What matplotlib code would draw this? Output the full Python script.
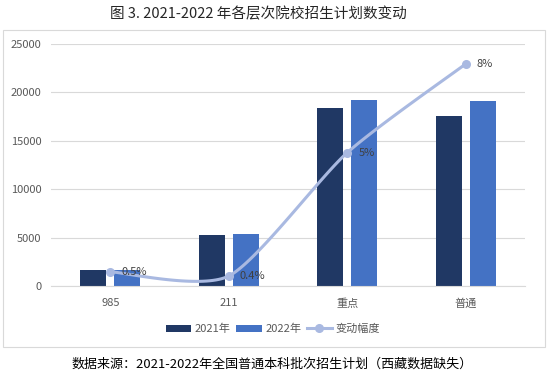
"""
图 3. 2021-2022 年各层次院校招生计划数变动 —— 柱状图 + 平滑折线(次坐标轴)
"""
import matplotlib
matplotlib.use("Agg")
import matplotlib.pyplot as plt
from matplotlib.patches import Rectangle
from matplotlib.lines import Line2D
from matplotlib.patches import Patch
import numpy as np

plt.rcParams["font.family"] = ["Noto Sans CJK SC", "DejaVu Sans"]

# -------------------------------------------------------------------------------------------------
# Data
# -------------------------------------------------------------------------------------------------
categories = ["985", "211", "重点", "普通"]
plan_2021 = [1650, 5300, 18350, 17530]
plan_2022 = [1700, 5400, 19250, 19080]
change_rate = [0.0053, 0.0037, 0.0496, 0.0826]
change_labels = ["0.5%", "0.4%", "5%", "8%"]

series_names = ["2021年", "2022年", "变动幅度"]
title = "图 3. 2021-2022 年各层次院校招生计划数变动"
source = "数据来源：2021-2022年全国普通本科批次招生计划（西藏数据缺失）"

c2021 = "#203864"
c2022 = "#4472C4"
cline = "#A9B9E1"
grid_c = "#D9D9D9"
text_c = "#595959"


def smooth_curve(xs, ys, k=0.35, n=40):
    """Smoothed line through the points (cardinal spline, tangent factor k)"""
    pts = np.column_stack([xs, ys]).astype(float)
    pts = np.vstack([pts[0], pts, pts[-1]])
    out = []
    t = np.linspace(0, 1, n)[:, None]
    h00 = 2 * t ** 3 - 3 * t ** 2 + 1
    h10 = t ** 3 - 2 * t ** 2 + t
    h01 = -2 * t ** 3 + 3 * t ** 2
    h11 = t ** 3 - t ** 2
    for i in range(1, len(pts) - 2):
        p0, p1, p2, p3 = pts[i - 1], pts[i], pts[i + 1], pts[i + 2]
        m1 = k * (p2 - p0)
        m2 = k * (p3 - p1)
        out.append(h00 * p1 + h10 * m1 + h01 * p2 + h11 * m2)
    out = np.vstack(out)
    return out[:, 0], out[:, 1]


# -------------------------------------------------------------------------------------------------
# Figure setup
# -------------------------------------------------------------------------------------------------
fig = plt.figure(figsize=(5.52, 3.75), dpi=100)
W, H = 552, 375

# chart area border
fig.patches.append(Rectangle((3 / W, 1 - 347 / H), 542 / W, 317 / H, transform=fig.transFigure,
                             fill=False, edgecolor=grid_c, linewidth=0.8))

ax = fig.add_axes([51 / W, 1 - 286 / H, 474 / W, 242 / H])
x = np.arange(len(categories))
bw = 0.22
off = 0.143
ax.bar(x - off, plan_2021, bw, color=c2021, zorder=2)
ax.bar(x + off, plan_2022, bw, color=c2022, zorder=2)

ax.set_xlim(-0.5, len(categories) - 0.5)
ax.set_ylim(0, 25000)
ax.set_yticks(np.arange(0, 25001, 5000))
ax.yaxis.grid(True, color=grid_c, linewidth=0.8, zorder=0)
ax.set_axisbelow(True)
for s in ["top", "right", "left"]:
    ax.spines[s].set_visible(False)
ax.spines["bottom"].set_color(grid_c)
ax.spines["bottom"].set_linewidth(0.8)
ax.tick_params(axis="both", length=0, labelsize=8, labelcolor=text_c)
ax.tick_params(axis="y", pad=7)
ax.tick_params(axis="x", pad=9)
ax.set_xticks(x)
ax.set_xticklabels(categories)

# secondary axis for the change rate (hidden)
ax2 = ax.twinx()
ax2.set_ylim(0, 0.09)
ax2.axis("off")
sx, sy = smooth_curve(x, change_rate)
ax2.plot(sx, sy, color=cline, linewidth=2.2, zorder=3, solid_capstyle="round")
ax2.plot(x, change_rate, "o", color=cline, markersize=5.5, zorder=4)
for xi, yi, lab in zip(x, change_rate, change_labels):
    ax2.annotate(lab, (xi, yi), xytext=(8, 0), textcoords="offset points",
                 ha="left", va="center", fontsize=8, color="#404040", zorder=5)

# legend
handles = [Patch(facecolor=c2021), Patch(facecolor=c2022),
           Line2D([], [], color=cline, linewidth=2.2, marker="o", markersize=5.5)]
fig.legend(handles, series_names, loc="center", bbox_to_anchor=(273 / W, 1 - 329 / H),
           ncol=3, frameon=False, fontsize=8, labelcolor=text_c, handlelength=2.3,
           handleheight=0.6, columnspacing=0.5, handletextpad=0.3)

fig.text(258 / W, 1 - 14 / H, title, ha="center", va="center", fontsize=10.5, color="#262626")
fig.text(272 / W, 1 - 364 / H, source, ha="center", va="center", fontsize=9.4, color="#000000")

fig.savefig("out.png", dpi=100)
